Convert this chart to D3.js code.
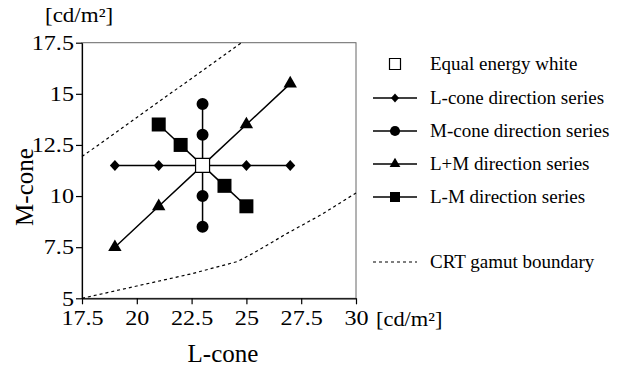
<!DOCTYPE html>
<html>
<head>
<meta charset="utf-8">
<script src="https://cdn.jsdelivr.net/npm/d3@7"></script>
<style>
  body { margin: 0; background: #fff; }
  svg text { font-family: "Liberation Serif", "DejaVu Serif", serif; fill: #000; }
</style>
</head>
<body>
<svg id="chart"></svg>
<script>
// data, cd/m^2
const white = [23, 11.5];
const lconeSeries = [[19, 11.5], [21, 11.5], [23, 11.5], [25, 11.5], [27, 11.5]];
const mconeSeries = [[23, 8.5], [23, 10], [23, 11.5], [23, 13], [23, 14.5]];
const lmSumSeries = [[19, 7.5], [21, 9.5], [23, 11.5], [25, 13.5], [27, 15.5]];
const lmDiffSeries = [[21, 13.5], [22, 12.5], [23, 11.5], [24, 10.5], [25, 9.5]];
const gamutUpper = [[17.5, 11.93], [24.78, 17.5]];
const gamutLower = [[17.5, 5.0], [20, 5.6], [22.5, 6.2], [24.6, 6.8], [25.3, 7.2], [26.9, 8.2], [28.4, 9.08], [30, 10.15]];
const xTicks = [17.5, 20, 22.5, 25, 27.5, 30];
const yTicks = [5, 7.5, 10, 12.5, 15, 17.5];
const legendLabels = ["Equal energy white", "L-cone direction series", "M-cone direction series",
  "L+M direction series", "L-M direction series", "CRT gamut boundary"];

const svgWidth = 628;
const svgHeight = 368;
const margin = { left: 82, top: 42.7, right: 272, bottom: 69.7 };
const serif = "'Liberation Serif', 'DejaVu Serif', serif";

const svg = d3.select("#chart")
  .attr("width", svgWidth)
  .attr("height", svgHeight);

const xScale = d3.scaleLinear()
  .domain([17.5, 30])
  .range([margin.left, svgWidth - margin.right]);

const yScale = d3.scaleLinear()
  .domain([5, 17.5])
  .range([svgHeight - margin.bottom, margin.top]);

// diamond a bit wider than d3's default one
const diamond = {
  draw(ctx, size) {
    const r = Math.sqrt(size) / 2;
    ctx.moveTo(0, -r * 1.1);
    ctx.lineTo(r, 0);
    ctx.lineTo(0, r * 1.1);
    ctx.lineTo(-r, 0);
    ctx.closePath();
  }
};

// frame
svg.append("rect")
  .attr("x", xScale(17.5))
  .attr("y", yScale(17.5))
  .attr("width", xScale(30) - xScale(17.5))
  .attr("height", yScale(5) - yScale(17.5))
  .attr("fill", "none")
  .attr("stroke", "#666")
  .attr("stroke-width", 1);

const xAxis = d3.axisBottom(xScale).tickValues(xTicks).tickSize(6).tickSizeOuter(0).tickFormat(d => String(d));
const yAxis = d3.axisLeft(yScale).tickValues(yTicks).tickSize(6).tickSizeOuter(0).tickFormat(d => String(d));

const gx = svg.append("g")
  .attr("transform", `translate(0, ${yScale(5)})`)
  .call(xAxis);
const gy = svg.append("g")
  .attr("transform", `translate(${xScale(17.5)}, 0)`)
  .call(yAxis);

[gx, gy].forEach(g => {
  g.attr("font-family", null);
  g.select(".domain").attr("stroke", "#000").attr("stroke-width", 1.2);
  g.selectAll(".tick line").attr("stroke", "#000").attr("stroke-width", 1.2);
  g.selectAll(".tick text")
    .style("font-family", serif)
    .style("font-size", "21px")
    .attr("fill", "#000");
});
// the scanned figure is a bit stretched sideways
gx.selectAll(".tick text").attr("x", 0).attr("y", 12).attr("transform", "scale(1.15,1)");
gy.selectAll(".tick text").attr("x", -7).attr("transform", "scale(1.15,1)");

// gamut boundary
const line = d3.line().x(d => xScale(d[0])).y(d => yScale(d[1]));
[gamutUpper, gamutLower].forEach(g => {
  svg.append("path")
    .attr("d", line(g))
    .attr("fill", "none")
    .attr("stroke", "#000")
    .attr("stroke-width", 1.2)
    .attr("stroke-dasharray", "3,3");
});

const series = [
  { data: lconeSeries, type: diamond, size: 100 },
  { data: mconeSeries, type: d3.symbolCircle, size: 113 },
  { data: lmSumSeries, type: d3.symbolTriangle, size: 78 },
  { data: lmDiffSeries, type: d3.symbolSquare, size: 196 }
];

series.forEach(s => {
  svg.append("path")
    .attr("d", line(s.data))
    .attr("fill", "none")
    .attr("stroke", "#000")
    .attr("stroke-width", 1.5);
});

series.forEach(s => {
  svg.selectAll(null)
    .data(s.data.filter(d => !(d[0] === white[0] && d[1] === white[1])))
    .enter()
    .append("path")
    .attr("transform", d => `translate(${xScale(d[0])}, ${yScale(d[1])})`)
    .attr("d", d3.symbol().type(s.type).size(s.size))
    .attr("fill", "#000");
});

svg.append("path")
  .attr("transform", `translate(${xScale(white[0])}, ${yScale(white[1])})`)
  .attr("d", d3.symbol().type(d3.symbolSquare).size(196))
  .attr("fill", "#fff")
  .attr("stroke", "#000")
  .attr("stroke-width", 1.2);

// axis titles and units
const addText = (x, y, size, str, anchor) => svg.append("text")
  .attr("x", x).attr("y", y)
  .attr("text-anchor", anchor || "start")
  .style("font-family", serif)
  .style("font-size", size + "px")
  .text(str);

addText(0, 0, 20, "[cd/m²]").attr("transform", "translate(45, 22) scale(1.15,1)");
addText(0, 0, 20, "[cd/m²]").attr("transform", "translate(376, 326) scale(1.12,1)");
addText(223, 362, 25, "L-cone", "middle");
addText(0, 0, 25, "M-cone", "middle")
  .attr("transform", "translate(33, 187) rotate(-90)");

// legend
const legendY = [64, 98, 131, 164, 197, 262];
const legendSym = [
  { type: d3.symbolSquare, size: 121, open: true },
  { type: diamond, size: 64 },
  { type: d3.symbolCircle, size: 80 },
  { type: d3.symbolTriangle, size: 50 },
  { type: d3.symbolSquare, size: 100 },
  null
];

const legend = svg.append("g");
legendLabels.forEach((label, i) => {
  const y = legendY[i];
  const sym = legendSym[i];
  if (i > 0) {
    legend.append("line")
      .attr("x1", 373).attr("x2", 417)
      .attr("y1", y).attr("y2", y)
      .attr("stroke", "#000")
      .attr("stroke-width", i === 5 ? 1.2 : 1.5)
      .attr("stroke-dasharray", i === 5 ? "3,3" : null);
  }
  if (sym) {
    legend.append("path")
      .attr("transform", `translate(395, ${y})`)
      .attr("d", d3.symbol().type(sym.type).size(sym.size))
      .attr("fill", sym.open ? "#fff" : "#000")
      .attr("stroke", sym.open ? "#000" : "none")
      .attr("stroke-width", 1.2);
  }
  addText(430, y + 6, 19, label);
});
</script>
</body>
</html>
